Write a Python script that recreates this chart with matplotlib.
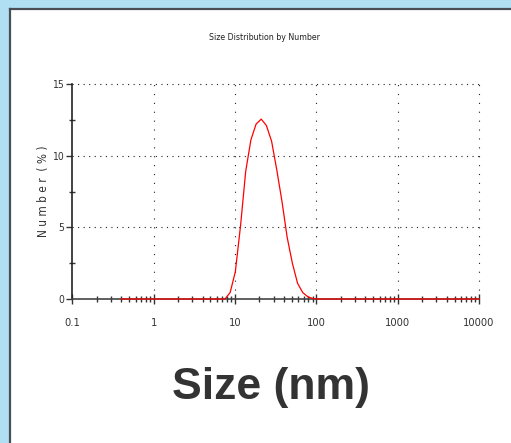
import matplotlib.pyplot as plt
from matplotlib.patches import Rectangle
from matplotlib.lines import Line2D
from matplotlib.ticker import LogLocator, NullFormatter, FixedLocator

plt.rcParams['font.family'] = ['DejaVu Sans']
plt.rcParams['font.stretch'] = 'condensed'

# size bins (nm) and number distribution (%)
size_nm = [0.4, 7.531, 8.721, 10.1, 11.7, 13.54, 15.69, 18.17, 21.04, 24.36,
           28.21, 32.67, 37.84, 43.82, 50.75, 58.77, 68.06, 78.82, 91.28,
           105.7, 10000]
number_pct = [0, 0, 0.45, 1.9, 5.1, 8.9, 11.1, 12.2, 12.55, 12.1,
              11.0, 9.0, 6.8, 4.3, 2.5, 1.1, 0.45, 0.15, 0.03,
              0, 0]

x_ticks = [0.1, 1, 10, 100, 1000, 10000]
x_labels = ['0.1', '1', '10', '100', '1000', '10000']
y_ticks = [0, 5, 10, 15]

fig = plt.figure(figsize=(5.11, 4.43), dpi=100)
fig.patch.set_facecolor('#b0dff4')

# white panel with dark border top/left
fig.patches.append(Rectangle((9.5 / 511, 0), 1, 434.5 / 443, transform=fig.transFigure,
                             facecolor='white', edgecolor='none', zorder=-10))
fig.lines.append(Line2D([9.5 / 511, 9.5 / 511], [0, 434.5 / 443], transform=fig.transFigure,
                        color='#4a4f55', lw=1.6, zorder=-5))
fig.lines.append(Line2D([9.5 / 511, 1], [434.5 / 443, 434.5 / 443], transform=fig.transFigure,
                        color='#4a4f55', lw=1.6, zorder=-5))

ax = fig.add_axes([72.3 / 511, 1 - 299 / 443, 406.7 / 511, 215 / 443])
ax.set_facecolor('none')
ax.plot(size_nm, number_pct, color='red', lw=0.9, zorder=5, clip_on=False)

ax.set_xscale('log')
ax.set_xlim(0.1, 10000)
ax.set_ylim(0, 15)

for v in x_ticks[1:]:
    ax.axvline(v, color='#222222', lw=0.8, dashes=(1, 7), zorder=1, clip_on=False)
for v in y_ticks[1:]:
    ax.axhline(v, color='#222222', lw=0.8, dashes=(1, 4), zorder=1, clip_on=False)

ax.xaxis.set_major_locator(FixedLocator(x_ticks))
ax.set_xticklabels(x_labels)
ax.xaxis.set_minor_locator(LogLocator(base=10, subs=range(2, 10), numticks=20))
ax.xaxis.set_minor_formatter(NullFormatter())
ax.set_yticks(y_ticks)
ax.set_yticks([2.5, 7.5, 12.5], minor=True)

ax.tick_params(axis='x', which='major', direction='inout', length=7, width=1,
               color='#333333', labelsize=8, labelcolor='#333333', pad=10)
ax.tick_params(axis='x', which='minor', direction='inout', length=5, width=1,
               color='#333333')
ax.tick_params(axis='y', which='major', direction='out', length=4, width=1,
               color='#333333', labelsize=7.5, labelcolor='#333333', pad=2)
ax.tick_params(axis='y', which='minor', direction='inout', length=4, width=1,
               color='#333333')

for s in ['top', 'right']:
    ax.spines[s].set_visible(False)
ax.spines['left'].set_color('#222222')
ax.spines['bottom'].set_color('#444444')
ax.spines['left'].set_linewidth(1.2)
ax.spines['bottom'].set_linewidth(1.2)

fig.text(264 / 511, 1 - 37 / 443, 'Size Distribution by Number', ha='center', va='center',
         fontsize=6.3, color='#222222')
fig.text(44 / 511, 1 - 191 / 443, 'N u m b e r  ( % )', ha='center', va='center',
         rotation=90, fontsize=8.5, color='#333333')
fig.text(271 / 511, 1 - 388 / 443, 'Size (nm)', ha='center', va='center',
         fontsize=32, fontweight='bold', color='#333333', fontstretch='normal',
         family=['Liberation Sans', 'DejaVu Sans'])

fig.savefig('out.png', dpi=100, facecolor=fig.get_facecolor())
